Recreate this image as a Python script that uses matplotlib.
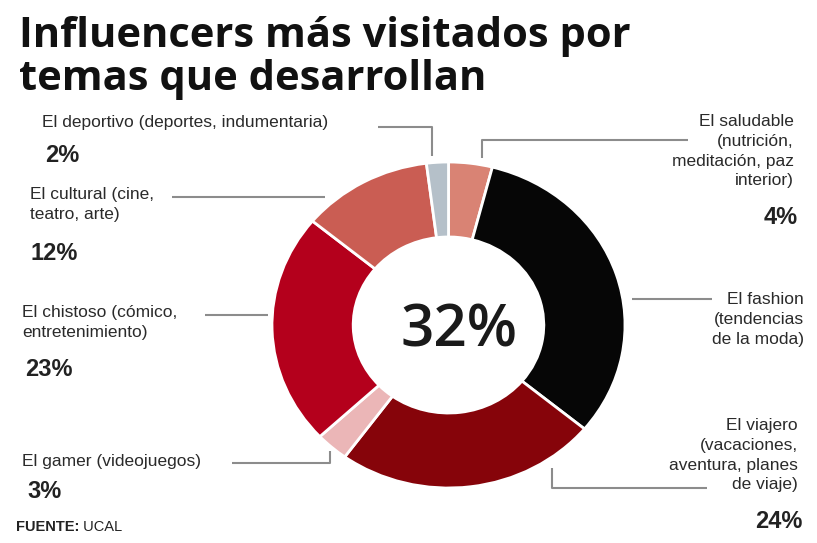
import matplotlib.pyplot as plt

W, H = 817, 543

# porcentaje de visitas por tema, en el orden del anillo (horario desde arriba)
temas = ["El saludable\n(nutrición,\nmeditación, paz\ninterior)",
         "El fashion\n(tendencias\nde la moda)",
         "El viajero\n(vacaciones,\naventura, planes\nde viaje)",
         "El gamer (videojuegos)",
         "El chistoso (cómico,\nentretenimiento)",
         "El cultural (cine,\nteatro, arte)",
         "El deportivo (deportes, indumentaria)"]
porcentajes = [4, 32, 24, 3, 23, 12, 2]
colores = ["#d98374", "#060606", "#86040a", "#ebb6b7", "#b4001c", "#ca5d53", "#b5c0c9"]

# posiciones de etiquetas (px): texto (x, borde superior), porcentaje (x, centro), alineación
etiq_texto = [(794, 114), (804, 292), (798, 418), (22, 454), (22, 305), (30, 187), (42, 115)]
etiq_pct = [(798, 217), (None, None), (803, 522), (27, 491), (25, 370), (31, 253), (45, 155)]
alineacion = ["right", "right", "right", "left", "left", "left", "left"]
guias = [
    [(688, 140), (482, 140), (482, 158)],
    [(632, 299), (712, 299)],
    [(552, 468), (552, 488), (707, 488)],
    [(232, 463), (330, 463), (330, 451)],
    [(205, 315), (268, 315)],
    [(172, 197), (325, 197)],
    [(378, 127), (432, 127), (432, 156)],
]

fig = plt.figure(figsize=(W / 100, H / 100), dpi=100)
fig.patch.set_facecolor("white")
ax = fig.add_axes([0, 0, 1, 1])
ax.set_xlim(0, W)
ax.set_ylim(H, 0)
ax.axis("off")

# anillo
x0, y0, x1, y1 = 272, 162, 625, 488
pax = fig.add_axes([x0 / W, 1 - y1 / H, (x1 - x0) / W, (y1 - y0) / H])
pax.pie(porcentajes, colors=colores, startangle=90, counterclock=False,
        radius=1, wedgeprops=dict(width=0.46, edgecolor="white", linewidth=2))
pax.set_aspect("auto")
pax.set_xlim(-1, 1)
pax.set_ylim(-1, 1)
pax.axis("off")
pax.text(0.06, -0.04, f"{porcentajes[1]}%", ha="center", va="center", fontsize=42,
         family="Open Sans", fontweight="semibold", color="#1a1a1a")

ax.text(19, 16, "Influencers más visitados por\ntemas que desarrollan",
        ha="left", va="top", fontsize=30, fontweight="bold", family="Open Sans",
        color="#111111", linespacing=1.05)

for txt, (tx, ty), (px, py), ha, pts, val in zip(temas, etiq_texto, etiq_pct,
                                                alineacion, guias, porcentajes):
    ax.text(tx, ty, txt, ha=ha, va="top", fontsize=12.5,
            family="Liberation Sans", color="#2a2a2a", linespacing=1.4)
    if px is not None:
        ax.text(px, py, f"{val}%", ha=ha, va="center", fontsize=17,
                fontweight="bold", family="Liberation Sans", color="#222222")
    xs, ys = zip(*pts)
    ax.plot(xs, ys, color="#8c8c8c", lw=1.5, solid_capstyle="butt")

fuente = ax.text(16, 527, "FUENTE:", ha="left", va="center", fontsize=10.5,
                 fontweight="bold", family="Liberation Sans", color="#222222")
ax.annotate(" UCAL", xy=(1, 0.5), xycoords=fuente, ha="left", va="center",
            fontsize=10.5, family="Liberation Sans", color="#222222")

fig.savefig("out.png", dpi=100, facecolor="white")
